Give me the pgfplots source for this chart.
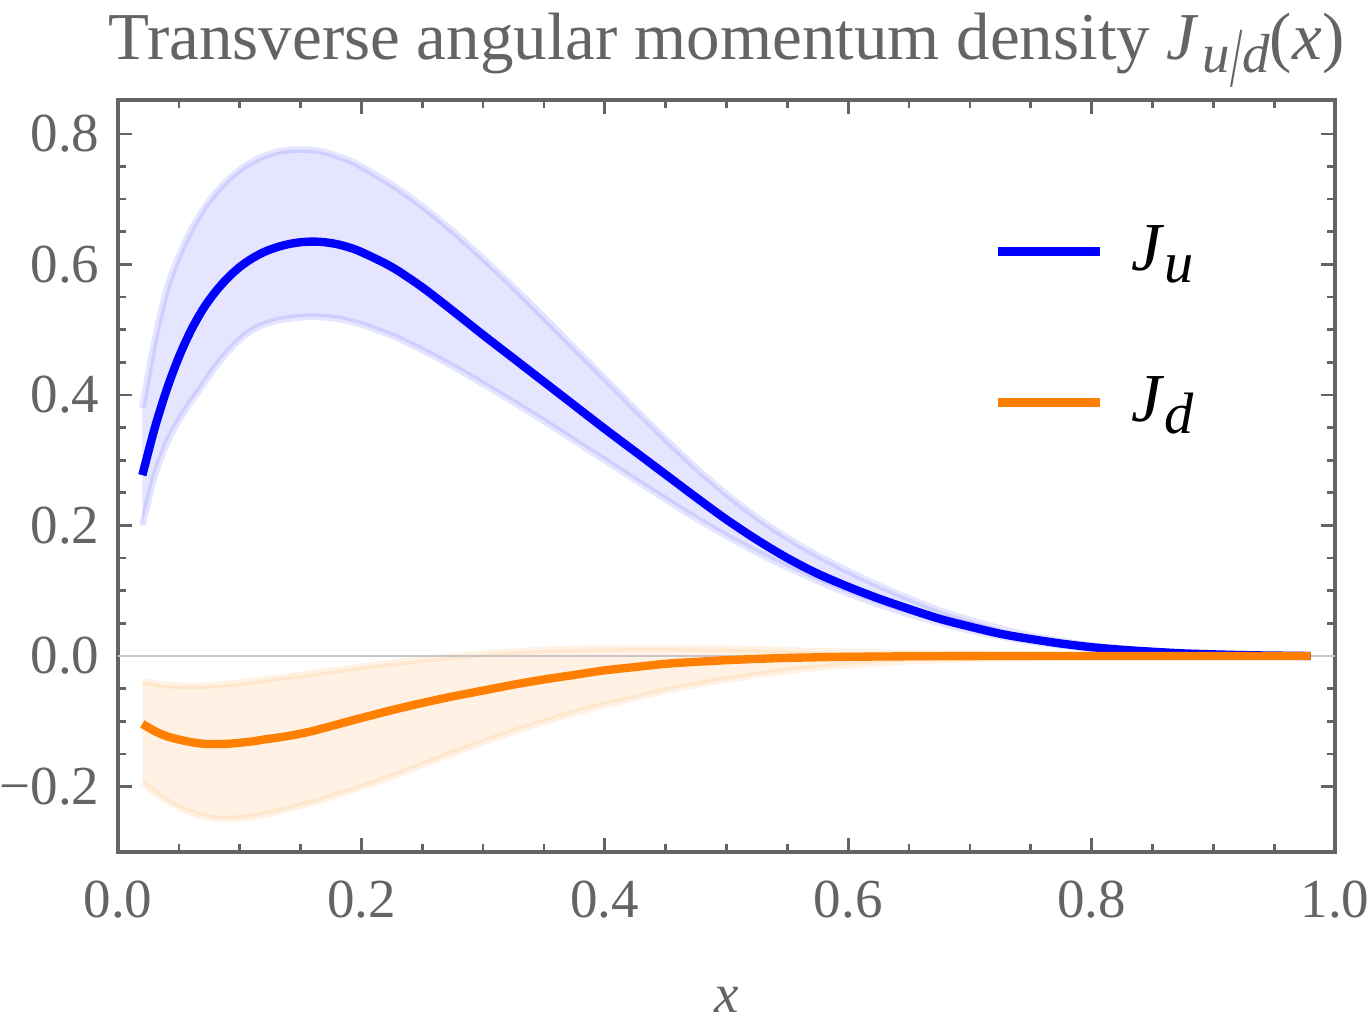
\documentclass[border=0pt]{standalone}
\usepackage{fontspec}
\setmainfont{Liberation Serif}
\usepackage{graphicx}
\usepackage{pgfplots}
\pgfplotsset{compat=1.18}
\usepgfplotslibrary{fillbetween}
\definecolor{axgray}{RGB}{100,100,100}
\definecolor{mblue}{RGB}{0,0,255}
\definecolor{morange}{RGB}{255,128,0}

\pgfplotstableread{
x y
0.02 0.277
0.03 0.348
0.04 0.408
0.05 0.458
0.06 0.499
0.07 0.532
0.08 0.558
0.09 0.579
0.10 0.596
0.11 0.609
0.12 0.619
0.13 0.626
0.14 0.631
0.15 0.634
0.16 0.635
0.17 0.634
0.18 0.631
0.19 0.626
0.20 0.619
0.225 0.596
0.25 0.565
0.275 0.529
0.30 0.492
0.325 0.456
0.35 0.420
0.375 0.384
0.40 0.348
0.425 0.313
0.45 0.278
0.475 0.243
0.50 0.209
0.525 0.178
0.55 0.150
0.575 0.126
0.60 0.106
0.625 0.088
0.65 0.072
0.675 0.057
0.70 0.045
0.725 0.034
0.75 0.026
0.775 0.019
0.80 0.0135
0.825 0.0095
0.85 0.0065
0.875 0.004
0.90 0.0025
0.925 0.0013
0.95 0.0006
0.98 0.0
}\JuMid

\pgfplotstableread{
x y
0.02 0.380
0.03 0.482
0.04 0.561
0.05 0.612
0.06 0.652
0.07 0.684
0.08 0.709
0.09 0.729
0.10 0.745
0.11 0.757
0.12 0.766
0.13 0.772
0.14 0.775
0.15 0.776
0.16 0.775
0.17 0.772
0.18 0.766
0.19 0.759
0.20 0.750
0.225 0.722
0.25 0.689
0.275 0.651
0.30 0.609
0.325 0.565
0.35 0.519
0.375 0.472
0.40 0.425
0.425 0.378
0.45 0.332
0.475 0.288
0.50 0.248
0.525 0.212
0.55 0.181
0.575 0.154
0.60 0.130
0.625 0.108
0.65 0.088
0.675 0.070
0.70 0.055
0.725 0.042
0.75 0.031
0.775 0.023
0.80 0.016
0.825 0.011
0.85 0.0075
0.875 0.0048
0.90 0.003
0.925 0.0016
0.95 0.0007
0.98 0.0
}\JuHi

\pgfplotstableread{
x y
0.02 0.200
0.03 0.275
0.04 0.326
0.05 0.361
0.06 0.390
0.07 0.416
0.08 0.443
0.09 0.466
0.10 0.485
0.11 0.499
0.12 0.508
0.13 0.514
0.14 0.517
0.15 0.519
0.16 0.520
0.17 0.519
0.18 0.517
0.19 0.513
0.20 0.508
0.225 0.491
0.25 0.469
0.275 0.444
0.30 0.417
0.325 0.389
0.35 0.360
0.375 0.330
0.40 0.300
0.425 0.270
0.45 0.240
0.475 0.211
0.50 0.184
0.525 0.159
0.55 0.136
0.575 0.115
0.60 0.096
0.625 0.079
0.65 0.064
0.675 0.051
0.70 0.039
0.725 0.030
0.75 0.022
0.775 0.016
0.80 0.011
0.825 0.0075
0.85 0.005
0.875 0.003
0.90 0.0018
0.925 0.0009
0.95 0.0004
0.98 0.0
}\JuLo

\pgfplotstableread{
x y
0.02 -0.104
0.03 -0.115
0.04 -0.123
0.05 -0.128
0.06 -0.132
0.07 -0.1345
0.08 -0.135
0.09 -0.1345
0.10 -0.133
0.11 -0.131
0.12 -0.128
0.13 -0.1255
0.14 -0.1225
0.15 -0.119
0.16 -0.115
0.17 -0.110
0.18 -0.105
0.19 -0.100
0.20 -0.095
0.225 -0.083
0.25 -0.072
0.275 -0.062
0.30 -0.053
0.325 -0.044
0.35 -0.036
0.375 -0.029
0.40 -0.022
0.425 -0.017
0.45 -0.012
0.475 -0.009
0.50 -0.0065
0.525 -0.0045
0.55 -0.003
0.575 -0.002
0.60 -0.0013
0.65 -0.0005
0.70 -0.0002
0.75 -0.00005
0.80 0.0
0.85 0.0
0.90 0.0
0.95 0.0
0.98 0.0
}\JdMid

\pgfplotstableread{
x y
0.02 -0.039
0.03 -0.0425
0.04 -0.0445
0.05 -0.0455
0.06 -0.046
0.07 -0.0455
0.08 -0.0445
0.09 -0.043
0.10 -0.041
0.11 -0.039
0.12 -0.0365
0.13 -0.034
0.14 -0.0315
0.15 -0.029
0.16 -0.0265
0.17 -0.024
0.18 -0.0215
0.19 -0.019
0.20 -0.017
0.225 -0.011
0.25 -0.0055
0.275 -0.001
0.30 0.003
0.325 0.0065
0.35 0.009
0.375 0.0105
0.40 0.0115
0.425 0.012
0.45 0.012
0.475 0.0115
0.50 0.011
0.525 0.0098
0.55 0.0085
0.575 0.0073
0.60 0.006
0.65 0.004
0.70 0.0025
0.75 0.0013
0.80 0.0005
0.85 0.0002
0.90 0.0
0.95 0.0
0.98 0.0
}\JdHi

\pgfplotstableread{
x y
0.02 -0.193
0.03 -0.209
0.04 -0.222
0.05 -0.232
0.06 -0.240
0.07 -0.2455
0.08 -0.249
0.09 -0.250
0.10 -0.249
0.11 -0.2465
0.12 -0.243
0.13 -0.239
0.14 -0.2345
0.15 -0.2295
0.16 -0.2245
0.17 -0.219
0.18 -0.213
0.19 -0.207
0.20 -0.201
0.225 -0.185
0.25 -0.167
0.275 -0.149
0.30 -0.132
0.325 -0.116
0.35 -0.101
0.375 -0.087
0.40 -0.075
0.425 -0.064
0.45 -0.053
0.475 -0.044
0.50 -0.036
0.525 -0.029
0.55 -0.023
0.575 -0.018
0.60 -0.014
0.65 -0.008
0.70 -0.0045
0.75 -0.0022
0.80 -0.001
0.85 -0.0004
0.90 -0.0001
0.95 0.0
0.98 0.0
}\JdLo

\pgfplotstableread{
x y
0 0
1 0
}\ZeroLine

\newcommand{\titlesub}{\raisebox{-3.9pt}{\fontsize{16.5}{17}\selectfont\textit{u}}\raisebox{-8pt}{\scalebox{0.8}[1.55]{\fontsize{16.5}{17}\selectfont/}}\raisebox{-3.9pt}{\fontsize{16.5}{17}\selectfont\textit{d}}}

\begin{document}
\begin{tikzpicture}
\begin{axis}[
  at={(0pt,0pt)}, anchor=south west,
  scale only axis, width=365.1pt, height=225.6pt,
  xmin=0, xmax=1, ymin=-0.3004, ymax=0.852,
  xtick={0,0.2,0.4,0.6,0.8,1},
  xticklabels={0.0,0.2,0.4,0.6,0.8,1.0},
  ytick={-0.2,0,0.2,0.4,0.6,0.8},
  yticklabels={−0.2,0.0,0.2,0.4,0.6,0.8},
  minor x tick num=3, minor y tick num=3,
  tick align=inside, tick pos=both,
  xticklabel pos=left, yticklabel pos=left,
  major tick length=4.2pt, minor tick length=2.4pt,
  tick style={axgray, line width=0.8pt},
  axis line style={axgray, line width=1pt},
  tick label style={font=\fontsize{16.5}{18}\selectfont, text=axgray, inner sep=0pt},
  yticklabel shift=5.4pt, xticklabel shift=8.4pt,
  xlabel={\textit{x}},
  xlabel style={at={(axis description cs:0.5,0)}, anchor=base, yshift=-48pt, inner sep=0pt,
    font=\fontsize{16.5}{18}\selectfont, text=axgray},
  every axis title/.style={at={(axis description cs:0.5,1)}, anchor=base, yshift=12pt,
    inner sep=0pt, font=\fontsize{20.1}{22}\selectfont, text=axgray},
  title={Transverse angular momentum density \textit{J}\hspace{1pt}\titlesub(\textit{x})},
  legend style={at={(axis description cs:0.719,0.8404)}, anchor=north west,
    draw=none, fill=none, inner sep=0pt, row sep=25.3pt,
    /tikz/every odd column/.append style={column sep=8pt},
    nodes={inner sep=0pt, text height=15pt, text depth=5pt,
      font=\fontsize{20.6}{22}\selectfont, text=black}},
  legend cell align=left,
  legend image code/.code={\draw[#1, line width=2.7pt] (0pt,0.8pt) -- (30.6pt,0.8pt);},
]
% bands
\addplot[draw=none, name path=uhi, smooth, forget plot] table {\JuHi};
\addplot[draw=none, name path=ulo, smooth, forget plot] table {\JuLo};
\addplot[draw=none, name path=dhi, smooth, forget plot] table {\JdHi};
\addplot[draw=none, name path=dlo, smooth, forget plot] table {\JdLo};
\addplot[fill=mblue, fill opacity=0.1, draw=none, forget plot] fill between[of=uhi and ulo];
\addplot[fill=morange, fill opacity=0.1, draw=none, forget plot] fill between[of=dhi and dlo];
\addplot[mblue, opacity=0.1, line width=2pt, smooth, forget plot] table {\JuHi};
\addplot[mblue, opacity=0.1, line width=2pt, smooth, forget plot] table {\JuLo};
\addplot[morange, opacity=0.1, line width=2pt, smooth, forget plot] table {\JdHi};
\addplot[morange, opacity=0.1, line width=2pt, smooth, forget plot] table {\JdLo};
% zero line
\addplot[gray!45, line width=0.4pt, forget plot] table {\ZeroLine};
% central curves
\addplot[mblue, line width=2.5pt, smooth] table {\JuMid};
\addlegendentry{\textit{J}\raisebox{-3.6pt}{\fontsize{17.5}{17}\selectfont\textit{u}}}
\addplot[morange, line width=2.5pt, smooth] table {\JdMid};
\addlegendentry{\textit{J}\raisebox{-3.6pt}{\fontsize{17.5}{17}\selectfont\textit{d}}}
\end{axis}
\pgfresetboundingbox
\useasboundingbox (-35.4pt,-51.9pt) rectangle (375.6pt,255.6pt);
\end{tikzpicture}
\end{document}
